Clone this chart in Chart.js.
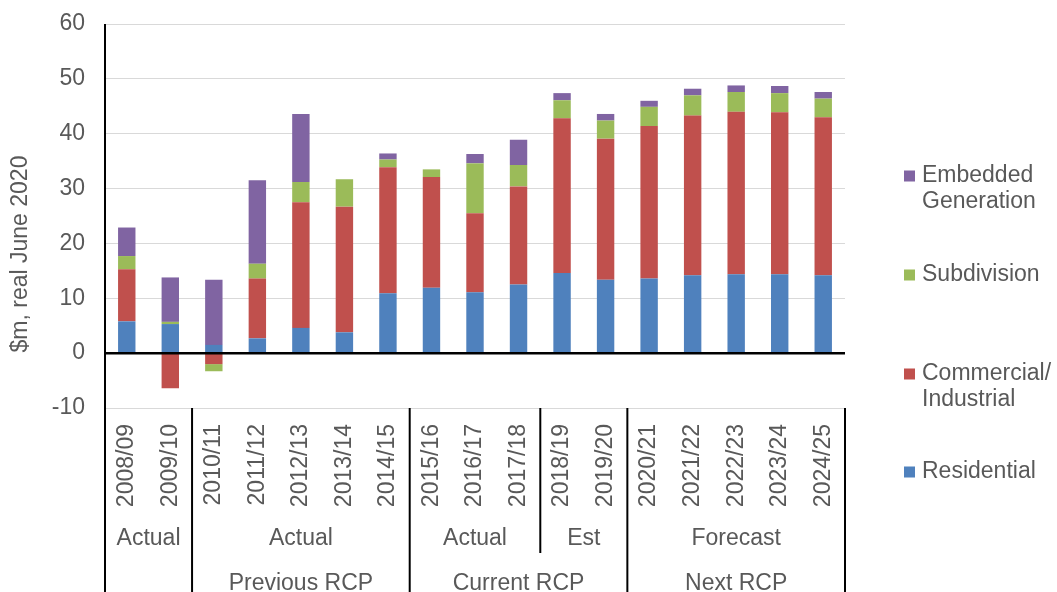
<!DOCTYPE html>
<html>
<head>
<meta charset="utf-8">
<script src="https://cdn.jsdelivr.net/npm/chart.js@4.4.1/dist/chart.umd.min.js"></script>
<style>
  html, body { margin: 0; padding: 0; background: #ffffff; }
  #wrap { width: 1057px; height: 592px; }
</style>
</head>
<body>
<div id="wrap"><canvas id="chart" width="1057" height="592"></canvas></div>
<script>
// Financial years on the category axis
const categories = ['2008/09', '2009/10', '2010/11', '2011/12', '2012/13', '2013/14', '2014/15',
  '2015/16', '2016/17', '2017/18', '2018/19', '2019/20', '2020/21', '2021/22', '2022/23', '2023/24', '2024/25'];

// $m, real June 2020, by connection type
const residential = [5.8, 5.3, 1.5, 2.7, 4.6, 3.8, 10.9, 11.9, 11.1, 12.5, 14.6, 13.4, 13.6, 14.2, 14.4, 14.4, 14.2];
const commercial  = [9.5, -6.4, -2.0, 10.9, 22.9, 22.9, 23.0, 20.2, 14.4, 17.9, 28.2, 25.7, 27.8, 29.1, 29.6, 29.5, 28.8];
const subdivision = [2.4, 0.4, -1.3, 2.7, 3.7, 5.0, 1.4, 1.4, 9.1, 3.9, 3.3, 3.3, 3.5, 3.7, 3.6, 3.5, 3.4];
const embedded    = [5.2, 8.1, 11.9, 15.2, 12.4, 0, 1.1, 0, 1.7, 4.6, 1.3, 1.2, 1.1, 1.2, 1.2, 1.3, 1.2];

// Series names, and how each wraps in the legend
const seriesNames = ['Residential', 'Commercial/ Industrial', 'Subdivision', 'Embedded Generation'];
const legendLines = [['Residential'], ['Commercial/', 'Industrial'], ['Subdivision'], ['Embedded', 'Generation']];

// Y axis range and step
const yTicks = [-10, 0, 10, 20, 30, 40, 50, 60];

// Grouping rows under the year labels: [label, first index, last index]
const periodGroups = [['Actual', 0, 1], ['Actual', 2, 6], ['Actual', 7, 9], ['Est', 10, 11], ['Forecast', 12, 16]];
const rcpGroups = [['', 0, 1], ['Previous RCP', 2, 6], ['Current RCP', 7, 11], ['Next RCP', 12, 16]];

const colors = ['#4F81BD', '#C0504D', '#9BBB59', '#8064A2'];
const textColor = '#595959';
const fontFamily = '"Liberation Sans", Arial, sans-serif';
const fontSize = 23;
const series = [residential, commercial, subdivision, embedded];

// Zero line, axis/divider lines, group rows, legend and axis title
const annotate = {
  id: 'annotate',
  afterDatasetsDraw(chart) {
    const { ctx, chartArea, scales: { x, y } } = chart;
    const H = chart.height;
    const boundary = (i) => (x.getPixelForValue(i - 1) + x.getPixelForValue(i)) / 2;
    ctx.save();

    // zero line across the bars
    const y0 = y.getPixelForValue(0);
    ctx.strokeStyle = '#000';
    ctx.lineWidth = 2.5;
    ctx.beginPath();
    ctx.moveTo(chartArea.left, y0);
    ctx.lineTo(chartArea.right, y0);
    ctx.stroke();

    // left axis line down through the category rows
    ctx.lineWidth = 2;
    ctx.beginPath();
    ctx.moveTo(chartArea.left, chartArea.top);
    ctx.lineTo(chartArea.left, H);
    ctx.stroke();

    // right edge of the category rows
    ctx.beginPath();
    ctx.moveTo(chartArea.right, chartArea.bottom);
    ctx.lineTo(chartArea.right, H);
    ctx.stroke();

    const rcpStarts = rcpGroups.map(g => g[1]);
    // dividers between groups
    periodGroups.forEach(g => {
      if (g[1] === 0) return;
      const bx = boundary(g[1]);
      const full = rcpStarts.includes(g[1]);
      ctx.beginPath();
      ctx.moveTo(bx, chartArea.bottom);
      ctx.lineTo(bx, full ? H : chartArea.bottom + 145);
      ctx.stroke();
    });

    // group labels
    ctx.fillStyle = textColor;
    ctx.font = fontSize + 'px ' + fontFamily;
    ctx.textAlign = 'center';
    ctx.textBaseline = 'middle';
    periodGroups.forEach(g => {
      const cx = (x.getPixelForValue(g[1]) + x.getPixelForValue(g[2])) / 2;
      ctx.fillText(g[0], cx, chartArea.bottom + 131);
    });
    rcpGroups.forEach(g => {
      const cx = (x.getPixelForValue(g[1]) + x.getPixelForValue(g[2])) / 2;
      ctx.fillText(g[0], cx, chartArea.bottom + 176);
    });

    // legend, top entry is the last series
    const legendY = [472, 374, 275, 176];
    ctx.textAlign = 'left';
    chart.data.datasets.forEach((ds, i) => {
      const ly = legendY[i];
      ctx.fillStyle = ds.backgroundColor;
      ctx.fillRect(904, ly - 5.5, 11, 11);
      ctx.fillStyle = textColor;
      legendLines[i].forEach((line, k) => {
        ctx.fillText(line, 922, ly + k * 26);
      });
    });

    // y axis title
    ctx.translate(21, 254);
    ctx.rotate(-Math.PI / 2);
    ctx.textAlign = 'center';
    ctx.fillText('$m, real June 2020', 0, 0);
    ctx.restore();
  }
};

new Chart(document.getElementById('chart'), {
  type: 'bar',
  data: {
    labels: categories,
    datasets: series.map((values, i) => ({
      label: seriesNames[i],
      data: values,
      backgroundColor: colors[i],
      borderWidth: 0,
      barPercentage: 0.4,
      categoryPercentage: 1.0
    }))
  },
  options: {
    responsive: false,
    animation: false,
    devicePixelRatio: 1,
    layout: { padding: { left: 0, right: 212, top: 24, bottom: 0 } },
    plugins: { legend: { display: false }, tooltip: { enabled: false } },
    scales: {
      x: {
        stacked: true,
        grid: { display: false, drawTicks: false },
        border: { display: false },
        ticks: {
          color: textColor,
          font: { family: fontFamily, size: fontSize },
          minRotation: 90,
          maxRotation: 90,
          autoSkip: false,
          padding: 16
        },
        afterFit(scale) {
          scale.height = 184;
          scale.paddingLeft = 0;
          scale.paddingRight = 0;
        }
      },
      y: {
        stacked: true,
        min: yTicks[0],
        max: yTicks[yTicks.length - 1],
        afterBuildTicks(scale) { scale.ticks = yTicks.map(v => ({ value: v })); },
        grid: { color: '#d9d9d9', lineWidth: 1, drawTicks: false },
        border: { display: false },
        ticks: {
          color: textColor,
          font: { family: fontFamily, size: fontSize },
          padding: 20
        },
        afterFit(scale) {
          scale.width = 105;
          scale.paddingTop = 0;
          scale.paddingBottom = 0;
        }
      }
    }
  },
  plugins: [annotate]
});
</script>
</body>
</html>
